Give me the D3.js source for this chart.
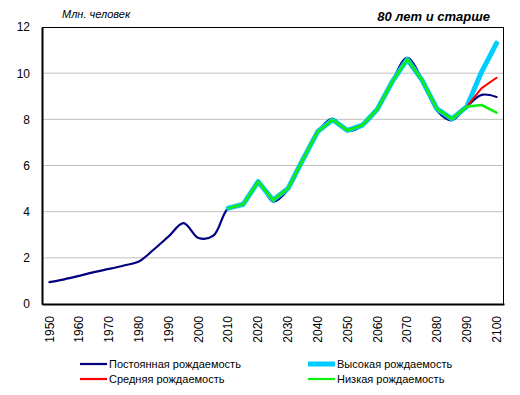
<!DOCTYPE html>
<html>
<head>
<meta charset="utf-8">
<script src="https://cdn.jsdelivr.net/npm/d3@7"></script>
<style>
  body { margin: 0; background: #fff; }
  text { font-family: "Liberation Sans", Arial, sans-serif; fill: #000; }
</style>
</head>
<body>
<div id="chart"></div>
<script>
// categories (every 5 years)
const years = [1950, 1955, 1960, 1965, 1970, 1975, 1980, 1985, 1990, 1995, 2000, 2005,
    2010, 2015, 2020, 2025, 2030, 2035, 2040, 2045, 2050, 2055, 2060, 2065,
    2070, 2075, 2080, 2085, 2090, 2095, 2100];

// Постоянная рождаемость
const constantFert = [0.95, 1.07, 1.22, 1.38, 1.52, 1.67, 1.84, 2.36, 2.93, 3.5, 2.86, 2.96,
    4.15, 4.3, 5.28, 4.44, 4.95, 6.22, 7.45, 8.02, 7.5, 7.72, 8.42, 9.66,
    10.66, 9.74, 8.38, 7.96, 8.55, 9.06, 8.97];

// Высокая рождаемость
const highFert = [null, null, null, null, null, null, null, null, null, null, null, null,
    4.15, 4.32, 5.3, 4.5, 5.0, 6.25, 7.47, 7.98, 7.52, 7.75, 8.44, 9.63,
    10.6, 9.7, 8.45, 8.02, 8.55, 10.06, 11.3];

// Средняя рождаемость
const mediumFert = [null, null, null, null, null, null, null, null, null, null, null, null,
    4.15, 4.32, 5.3, 4.5, 5.0, 6.25, 7.47, 7.98, 7.52, 7.75, 8.44, 9.63,
    10.6, 9.7, 8.45, 8.02, 8.55, 9.35, 9.8];

// Низкая рождаемость
const lowFert = [null, null, null, null, null, null, null, null, null, null, null, null,
    4.15, 4.32, 5.3, 4.5, 5.0, 6.25, 7.47, 7.98, 7.52, 7.75, 8.44, 9.63,
    10.6, 9.7, 8.45, 8.02, 8.55, 8.62, 8.29];

const yTicks = [0, 2, 4, 6, 8, 10, 12];
const xLabels = [1950, 1960, 1970, 1980, 1990, 2000, 2010, 2020, 2030, 2040, 2050,
    2060, 2070, 2080, 2090, 2100];

let margin = {top: 27, right: 16, bottom: 91, left: 42};
let width = 520 - margin.left - margin.right;
let height = 395 - margin.top - margin.bottom;

let svg = d3.select("#chart")
    .append("svg")
    .attr("width", 520)
    .attr("height", 395);

let g = svg.append("g")
    .attr("transform", "translate(" + margin.left + "," + margin.top + ")");

let x = d3.scaleBand()
    .domain(years)
    .range([0, width]);

let y = d3.scaleLinear()
    .domain([0, 12])
    .range([height, 0]);

// gridlines
g.selectAll(".grid")
    .data(yTicks.filter(d => d > 0 && d < 12))
    .enter().append("line")
    .attr("class", "grid")
    .attr("x1", 0)
    .attr("x2", width)
    .attr("y1", d => y(d))
    .attr("y2", d => y(d))
    .attr("stroke", "#c0c0c0")
    .attr("stroke-width", 1);

// plot frame
g.append("rect")
    .attr("x", 0.5)
    .attr("y", 0.5)
    .attr("width", width - 1)
    .attr("height", height)
    .attr("fill", "none")
    .attr("stroke", "#000")
    .attr("stroke-width", 1);

// y axis
let yAxis = d3.axisLeft(y)
    .tickValues(yTicks)
    .tickSize(0)
    .tickPadding(12);

let yAxisGroup = g.append("g")
    .attr("class", "y-axis")
    .call(yAxis);
yAxisGroup.select(".domain").attr("stroke", "#000").attr("stroke-width", 2);
yAxisGroup.selectAll("text").style("font-size", "12px");

// x axis
let xAxis = d3.axisBottom(x)
    .tickValues(xLabels)
    .tickSize(0)
    .tickPadding(0);

let xAxisGroup = g.append("g")
    .attr("class", "x-axis")
    .attr("transform", "translate(0," + height + ")")
    .call(xAxis);
xAxisGroup.select(".domain").attr("stroke", "#000").attr("stroke-width", 2);
xAxisGroup.selectAll("text")
    .style("font-size", "12px")
    .attr("text-anchor", "end")
    .attr("dy", "0.35em")
    .attr("transform", "translate(0,12) rotate(-90)")
    .attr("x", 0)
    .attr("y", 0);

// lines
const series = [
    {name: "Постоянная рождаемость", values: constantFert, color: "#000080", width: 2.2, curve: d3.curveCatmullRom},
    {name: "Высокая рождаемость", values: highFert, color: "#00CCFF", width: 5, curve: d3.curveLinear},
    {name: "Средняя рождаемость", values: mediumFert, color: "#FF0000", width: 2, curve: d3.curveLinear},
    {name: "Низкая рождаемость", values: lowFert, color: "#11EE11", width: 2.6, curve: d3.curveLinear}
];

series.forEach(s => {
    let line = d3.line()
        .defined(d => d != null)
        .x((d, i) => x(years[i]) + x.bandwidth() / 2)
        .y(d => y(d))
        .curve(s.curve);

    g.append("path")
        .datum(s.values)
        .attr("fill", "none")
        .attr("stroke", s.color)
        .attr("stroke-width", s.width)
        .attr("stroke-linejoin", "round")
        .attr("stroke-linecap", "round")
        .attr("d", line);
});

// titles
svg.append("text")
    .attr("x", 62)
    .attr("y", 18)
    .style("font-size", "11px")
    .style("font-style", "italic")
    .text("Млн. человек");

svg.append("text")
    .attr("x", 490)
    .attr("y", 21)
    .attr("text-anchor", "end")
    .style("font-size", "13px")
    .style("font-style", "italic")
    .style("font-weight", "bold")
    .text("80 лет и старше");

// legend
const legendPos = [[80, 364], [308, 364], [80, 379], [308, 379]];

let legend = svg.append("g").attr("class", "legend");
series.forEach((s, k) => {
    let p = legendPos[k];
    legend.append("line")
        .attr("x1", p[0])
        .attr("x2", p[0] + 27)
        .attr("y1", p[1])
        .attr("y2", p[1])
        .attr("stroke", s.color)
        .attr("stroke-width", k === 1 ? 5 : 2.2);
    legend.append("text")
        .attr("x", p[0] + 29)
        .attr("y", p[1])
        .attr("dy", "0.35em")
        .style("font-size", "11px")
        .text(s.name);
});
</script>
</body>
</html>
